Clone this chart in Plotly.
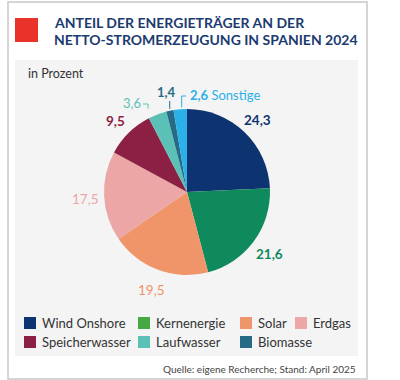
import math
import plotly.graph_objects as go

# ---- data ----
categories = ["Wind Onshore", "Kernenergie", "Solar", "Erdgas",
              "Speicherwasser", "Laufwasser", "Biomasse", "Sonstige"]
values = [24.3, 21.6, 19.5, 17.5, 9.5, 3.6, 1.4, 2.6]
value_labels = ["24,3", "21,6", "19,5", "17,5", "9,5", "3,6", "1,4", "2,6"]
legend_items = ["Wind Onshore", "Kernenergie", "Solar", "Erdgas",
                "Speicherwasser", "Laufwasser", "Biomasse"]

title_lines = ["ANTEIL DER ENERGIETRÄGER AN DER",
               "NETTO-STROMERZEUGUNG IN SPANIEN 2024"]
unit_text = "in Prozent"
source_text = "Quelle: eigene Recherche; Stand: April 2025"

# ---- styles ----
W, H = 400, 380
FONT = "Lato"
slice_colors = ["#0d3470", "#0e8a5c", "#f0956a", "#eca6a6",
                "#8c1f44", "#5bc0b5", "#266b86", "#2bb0e8"]
legend_colors = ["#0d3470", "#45a845", "#f0956a", "#eca6a6",
                 "#8c1f44", "#5bc0b5", "#266b86"]
label_bold = [True, True, False, False, True, False, True, True]
TITLE_COLOR = "#1b3b70"

CX, CY, R = 187, 192, 83   # pie geometry in pixels


def px(x):
    return x / W


def py(y):
    return 1 - y / H


fig = go.Figure()
fig.add_trace(go.Pie(
    labels=categories, values=values, sort=False, direction="clockwise",
    rotation=0, marker=dict(colors=slice_colors, line=dict(width=0)),
    textinfo="none", hoverinfo="label+value", showlegend=False,
    domain=dict(x=[px(CX - R), px(CX + R)], y=[py(CY + R), py(CY - R)]),
))

shapes = []
annotations = []

# frame, panel, red square
shapes.append(dict(type="rect", xref="paper", yref="paper", layer="below",
                   x0=px(8), x1=px(367), y0=py(379), y1=py(2),
                   line=dict(color="#c8c8c8", width=1.5), fillcolor="white"))
shapes.append(dict(type="rect", xref="paper", yref="paper", layer="below",
                   x0=px(15), x1=px(358), y0=py(356), y1=py(60),
                   line=dict(width=0), fillcolor="#f4f4f4"))
shapes.append(dict(type="rect", xref="paper", yref="paper", layer="below",
                   x0=px(15), x1=px(38), y0=py(42), y1=py(18),
                   line=dict(width=0), fillcolor="#e8322a"))

# title
for i, line in enumerate(title_lines):
    annotations.append(dict(
        text="<b>" + line + "</b>", x=px(52), y=py(23 + 16.5 * i),
        xref="paper", yref="paper", xanchor="left", yanchor="middle",
        showarrow=False, font=dict(family=FONT, size=14, color=TITLE_COLOR)))

annotations.append(dict(text=unit_text, x=px(26), y=py(74), xref="paper",
                        yref="paper", xanchor="left", yanchor="middle",
                        showarrow=False,
                        font=dict(family=FONT, size=12.5, color="#333333")))

# value labels computed from the data
total = sum(values)
cum = 0.0
for i, v in enumerate(values):
    start = cum
    cum += v
    mid = (start + v / 2) / total * 2 * math.pi
    col = slice_colors[i]
    txt = value_labels[i]
    txt = "<b>" + txt + "</b>" if label_bold[i] else txt
    if v >= 5:
        rl = R + 19
        lx = CX + rl * math.sin(mid)
        ly = CY - rl * math.cos(mid) + 2
        annotations.append(dict(text=txt, x=px(lx), y=py(ly), xref="paper",
                                yref="paper", xanchor="center",
                                yanchor="middle", showarrow=False,
                                font=dict(family=FONT, size=13.5, color=col)))
    else:
        ax = CX + (R + 1) * math.sin(mid)
        ay = CY - (R + 1) * math.cos(mid)
        name = categories[i]
        if name == "Laufwasser":
            lx_line = ax - 9
            shapes.append(dict(type="path", xref="paper", yref="paper",
                               path=f"M {px(lx_line)},{py(ay - 5)} L {px(lx_line)},{py(104)} L {px(lx_line - 5)},{py(104)}",
                               line=dict(color=col, width=1)))
            annotations.append(dict(text=txt, x=px(lx_line - 5.5), y=py(103),
                                    xref="paper", yref="paper",
                                    xanchor="right", yanchor="middle",
                                    showarrow=False,
                                    font=dict(family=FONT, size=13, color=col)))
        elif name == "Biomasse":
            shapes.append(dict(type="line", xref="paper", yref="paper",
                               x0=px(ax), x1=px(ax), y0=py(ay - 1), y1=py(101),
                               line=dict(color=col, width=1)))
            annotations.append(dict(text=txt, x=px(ax - 3), y=py(92),
                                    xref="paper", yref="paper",
                                    xanchor="center", yanchor="middle",
                                    showarrow=False,
                                    font=dict(family=FONT, size=13, color=col)))
        else:
            lx_line = ax + 1.5
            shapes.append(dict(type="path", xref="paper", yref="paper",
                               path=f"M {px(lx_line)},{py(ay - 1)} L {px(lx_line)},{py(96)} L {px(lx_line + 4.5)},{py(96)}",
                               line=dict(color=col, width=1)))
            annotations.append(dict(text=txt + " " + name,
                                    x=px(lx_line + 6), y=py(95),
                                    xref="paper", yref="paper",
                                    xanchor="left", yanchor="middle",
                                    showarrow=False,
                                    font=dict(family=FONT, size=13, color=col)))

# legend (custom)
legend_x = [24, 138, 240, 295]
legend_y = [323, 342]
for i, name in enumerate(legend_items):
    row = 0 if i < 4 else 1
    colx = legend_x[i % 4] if row == 0 else legend_x[i - 4]
    y = legend_y[row]
    shapes.append(dict(type="rect", xref="paper", yref="paper",
                       x0=px(colx), x1=px(colx + 12), y0=py(y + 6),
                       y1=py(y - 6), line=dict(width=0),
                       fillcolor=legend_colors[i]))
    annotations.append(dict(text=name, x=px(colx + 15.5), y=py(y),
                            xref="paper", yref="paper", xanchor="left",
                            yanchor="middle", showarrow=False,
                            font=dict(family=FONT, size=13,
                                      color="#333333")))

annotations.append(dict(text=source_text, x=px(358), y=py(369), xref="paper",
                        yref="paper", xanchor="right", yanchor="middle",
                        showarrow=False,
                        font=dict(family=FONT, size=10, color="#444444")))

fig.update_layout(
    width=W, height=H, margin=dict(l=0, r=0, t=0, b=0),
    paper_bgcolor="white", plot_bgcolor="white",
    shapes=shapes, annotations=annotations,
    font=dict(family=FONT),
)

fig.write_html("out.html", config={"displayModeBar": False},
               post_script="document.body.style.margin='0';"
                           "document.body.style.overflow='hidden';")
